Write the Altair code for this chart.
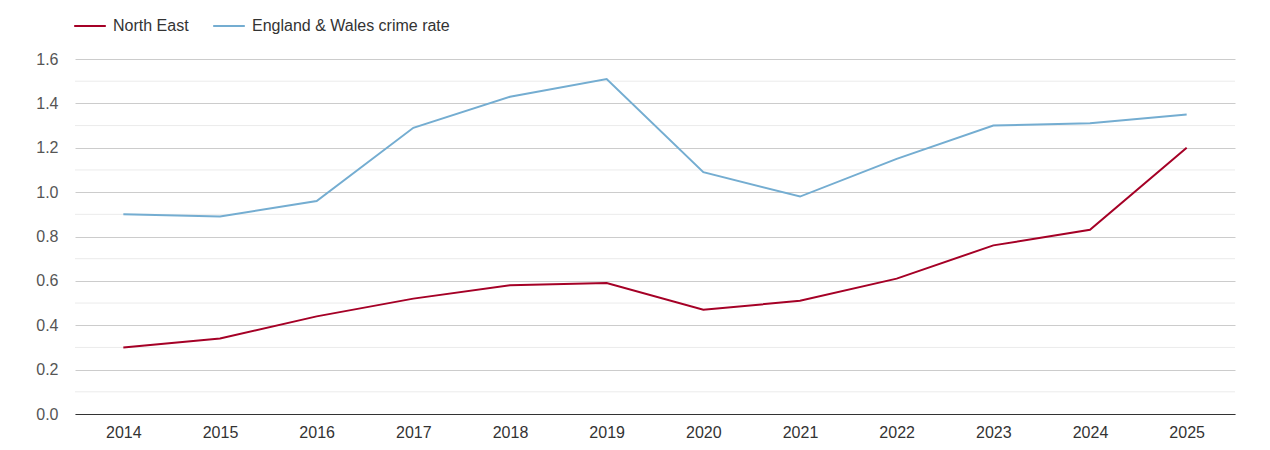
import altair as alt
import pandas as pd

years = [str(y) for y in range(2014, 2026)]
north_east = [0.30, 0.34, 0.44, 0.52, 0.58, 0.59, 0.47, 0.51, 0.61, 0.76, 0.83, 1.20]
england_wales = [0.90, 0.89, 0.96, 1.29, 1.43, 1.51, 1.09, 0.98, 1.15, 1.30, 1.31, 1.35]
series_names = ["North East", "England & Wales crime rate"]
series_colors = ["#a50026", "#74add1"]
major_ticks = [0, 0.2, 0.4, 0.6, 0.8, 1.0, 1.2, 1.4, 1.6]
minor_ticks = [0.1, 0.3, 0.5, 0.7, 0.9, 1.1, 1.3, 1.5]

rows = []
for i, y in enumerate(years):
    rows.append({"year": y, "value": north_east[i], "series": series_names[0]})
    rows.append({"year": y, "value": england_wales[i], "series": series_names[1]})
df = pd.DataFrame(rows)
minor_df = pd.DataFrame({"value": minor_ticks})

FONT = "Liberation Sans"

yscale = alt.Scale(domain=[0, 1.6], nice=False)
yaxis = alt.Axis(title=None, values=major_ticks, format=".1f", ticks=False,
                 domain=False, grid=True, gridColor="#cccccc",
                 labelColor="#555555", labelFontSize=16, labelPadding=17,
                 labelFont=FONT)

minor = alt.Chart(minor_df).mark_rule(color="#ebebeb", strokeWidth=1).encode(
    y=alt.Y("value:Q", scale=yscale, axis=yaxis)
)

lines = alt.Chart(df).mark_line(strokeWidth=2).encode(
    x=alt.X("year:O", scale=alt.Scale(type="point", padding=0.5),
            axis=alt.Axis(title=None, labelAngle=0, ticks=False, domain=True,
                          grid=False, domainColor="#333333",
                          labelColor="#333333", labelFontSize=16,
                          labelPadding=10, labelFont=FONT)),
    y=alt.Y("value:Q", scale=yscale, axis=yaxis),
    color=alt.Color("series:N",
                    scale=alt.Scale(domain=series_names, range=series_colors),
                    legend=alt.Legend(title=None, orient="none", direction="horizontal",
                                      legendX=-2, legendY=-50,
                                      symbolType="stroke", symbolSize=1000,
                                      symbolStrokeWidth=2, labelFontSize=16,
                                      labelColor="#333333", labelFont=FONT,
                                      labelLimit=400,
                                      columnPadding=20, labelOffset=6)),
)

chart = alt.layer(minor, lines).properties(
    width=1160, height=355,
    autosize=alt.AutoSizeParams(type="none"),
    padding={"left": 67, "top": 51, "right": 27, "bottom": 30},
).configure_view(stroke=None)

chart.save("out.html", embed_options={"renderer": "svg", "actions": False})
